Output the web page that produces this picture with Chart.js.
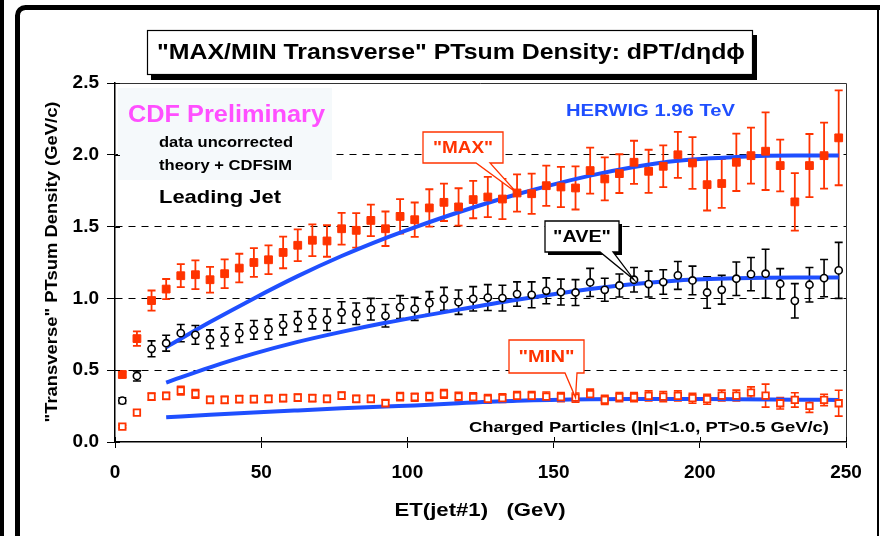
<!DOCTYPE html>
<html>
<head>
<meta charset="utf-8">
<script src="https://cdn.jsdelivr.net/npm/chart.js@4"></script>
<style>
  html, body { margin: 0; padding: 0; background: #fff; }
  canvas { display: block; }
</style>
</head>
<body>
<canvas id="chart" width="880" height="536"></canvas>
<script>
const ET = [2.5, 7.5, 12.5, 17.5, 22.5, 27.5, 32.5, 37.5, 42.5, 47.5,
  52.5, 57.5, 62.5, 67.5, 72.5, 77.5, 82.5, 87.5, 92.5, 97.5,
  102.5, 107.5, 112.5, 117.5, 122.5, 127.5, 132.5, 137.5, 142.5, 147.5,
  152.5, 157.5, 162.5, 167.5, 172.5, 177.5, 182.5, 187.5, 192.5, 197.5,
  202.5, 207.5, 212.5, 217.5, 222.5, 227.5, 232.5, 237.5, 242.5, 247.5];

const MAX_VALUES = [0.47, 0.72, 0.985, 1.065, 1.158, 1.165, 1.13, 1.172, 1.211, 1.25,
  1.269, 1.32, 1.37, 1.405, 1.40, 1.485, 1.474, 1.543, 1.485, 1.571,
  1.548, 1.63, 1.669, 1.637, 1.688, 1.706, 1.692, 1.734, 1.729, 1.785,
  1.776, 1.769, 1.89, 1.832, 1.869, 1.948, 1.885, 1.92, 2.0, 1.943,
  1.792, 1.80, 1.948, 1.994, 2.025, 1.925, 1.672, 1.925, 1.994, 2.118];
const MAX_ERRORS = [0.02, 0.05, 0.07, 0.07, 0.08, 0.1, 0.09, 0.1, 0.1, 0.1,
  0.1, 0.11, 0.11, 0.11, 0.11, 0.11, 0.12, 0.11, 0.12, 0.12,
  0.12, 0.13, 0.13, 0.13, 0.13, 0.14, 0.14, 0.13, 0.14, 0.14,
  0.14, 0.15, 0.16, 0.15, 0.135, 0.15, 0.15, 0.145, 0.16, 0.18,
  0.18, 0.17, 0.2, 0.195, 0.27, 0.18, 0.2, 0.22, 0.23, 0.33];

const AVE_VALUES = [0.288, 0.46, 0.649, 0.688, 0.758, 0.746, 0.716, 0.734, 0.758, 0.781,
  0.786, 0.816, 0.839, 0.858, 0.851, 0.902, 0.893, 0.925, 0.879, 0.939,
  0.927, 0.967, 0.997, 0.974, 0.997, 1.006, 1.002, 1.03, 1.025, 1.053,
  1.044, 1.041, 1.111, 1.06, 1.09, 1.13, 1.10, 1.114, 1.16, 1.125,
  1.041, 1.06, 1.137, 1.169, 1.172, 1.102, 0.983, 1.095, 1.141, 1.195];
const AVE_ERRORS = [0.02, 0.035, 0.055, 0.055, 0.06, 0.065, 0.065, 0.065, 0.065, 0.065,
  0.07, 0.07, 0.07, 0.07, 0.075, 0.075, 0.075, 0.075, 0.078, 0.08,
  0.08, 0.08, 0.08, 0.085, 0.085, 0.09, 0.09, 0.085, 0.09, 0.09,
  0.09, 0.09, 0.098, 0.08, 0.08, 0.085, 0.09, 0.085, 0.097, 0.1,
  0.11, 0.1, 0.117, 0.116, 0.17, 0.105, 0.12, 0.12, 0.13, 0.195];

const MIN_VALUES = [0.107, 0.204, 0.316, 0.321, 0.358, 0.335, 0.293, 0.293, 0.298, 0.298,
  0.30, 0.305, 0.309, 0.305, 0.30, 0.323, 0.30, 0.30, 0.27, 0.316,
  0.312, 0.316, 0.335, 0.316, 0.312, 0.30, 0.305, 0.321, 0.321, 0.316,
  0.312, 0.309, 0.333, 0.293, 0.312, 0.312, 0.321, 0.316, 0.321, 0.305,
  0.298, 0.323, 0.323, 0.344, 0.323, 0.27, 0.293, 0.251, 0.293, 0.27];
const MIN_ERRORS = [0.01, 0.015, 0.025, 0.025, 0.03, 0.03, 0.025, 0.025, 0.025, 0.025,
  0.025, 0.025, 0.025, 0.025, 0.025, 0.025, 0.025, 0.025, 0.025, 0.028,
  0.028, 0.028, 0.03, 0.03, 0.03, 0.03, 0.03, 0.03, 0.03, 0.032,
  0.032, 0.032, 0.035, 0.032, 0.032, 0.032, 0.035, 0.035, 0.035, 0.035,
  0.035, 0.038, 0.038, 0.04, 0.08, 0.04, 0.05, 0.045, 0.04, 0.09];

const HERWIG_ET = [17.5, 32.5, 47.5, 62.5, 77.5, 92.5, 102.5, 117.5, 137.5, 162.5, 177.5, 192.5, 212.5, 232.5, 247.5];
const HERWIG_MAX = [0.66, 0.835, 1.0, 1.155, 1.295, 1.42, 1.495, 1.60, 1.725, 1.855, 1.915, 1.958, 1.985, 1.995, 1.995];
const HERWIG_AVE = [0.414, 0.52, 0.615, 0.697, 0.767, 0.83, 0.868, 0.922, 0.99, 1.065, 1.10, 1.125, 1.14, 1.145, 1.145];
const HERWIG_MIN = [0.172, 0.19, 0.205, 0.22, 0.235, 0.248, 0.255, 0.27, 0.287, 0.298, 0.30, 0.299, 0.298, 0.295, 0.293];

const RED = '#ff3300';
const BLUE = '#1f4fff';
const FONT = '"Liberation Sans", Arial, Helvetica, sans-serif';

function points(xs, ys) {
  return xs.map((x, i) => ({ x, y: ys[i] }));
}

function drawText(ctx, text, x, y, size, color, width, align = 'left') {
  ctx.save();
  ctx.font = `bold ${size}px ${FONT}`;
  ctx.fillStyle = color;
  ctx.textBaseline = 'middle';
  ctx.textAlign = align;
  const measured = ctx.measureText(text).width;
  ctx.translate(x, y);
  ctx.scale(width ? width / measured : 1, 1);
  ctx.fillText(text, 0, 0);
  ctx.restore();
}

function drawErrorBars(chart, values, errors, color, lineWidth) {
  const { ctx, scales: { x, y } } = chart;
  ctx.save();
  ctx.strokeStyle = color;
  ctx.lineWidth = lineWidth;
  values.forEach((v, i) => {
    const px = x.getPixelForValue(ET[i]);
    const top = y.getPixelForValue(v + errors[i]);
    const bottom = y.getPixelForValue(v - errors[i]);
    ctx.beginPath();
    ctx.moveTo(px, top);
    ctx.lineTo(px, bottom);
    ctx.moveTo(px - 4, top);
    ctx.lineTo(px + 4, top);
    ctx.moveTo(px - 4, bottom);
    ctx.lineTo(px + 4, bottom);
    ctx.stroke();
  });
  ctx.restore();
}

// box with a pointer that ends at a data point
function drawCallout(chart, box, base, index, values, text, color, shadow) {
  const { ctx, scales: { x, y } } = chart;
  const tipX = x.getPixelForValue(ET[index]);
  const tipY = y.getPixelForValue(values[index]);
  ctx.save();
  if (shadow) {
    ctx.fillStyle = '#000';
    ctx.fillRect(box.x + 3, box.y + 3, box.w, box.h);
  }
  ctx.fillStyle = '#fff';
  ctx.strokeStyle = color;
  ctx.lineWidth = 1.3;
  ctx.beginPath();
  ctx.moveTo(box.x, box.y);
  ctx.lineTo(box.x + box.w, box.y);
  ctx.lineTo(box.x + box.w, box.y + box.h);
  ctx.lineTo(base[1], box.y + box.h);
  ctx.lineTo(tipX, tipY);
  ctx.lineTo(base[0], box.y + box.h);
  ctx.lineTo(box.x, box.y + box.h);
  ctx.closePath();
  ctx.fill();
  ctx.stroke();
  ctx.restore();
  drawText(ctx, text, box.x + box.w / 2, box.y + box.h / 2 + 1, 17, color, box.tw, 'center');
}

const decorations = {
  id: 'decorations',
  beforeDraw(chart) {
    const { ctx } = chart;
    ctx.save();
    ctx.fillStyle = '#fff';
    ctx.fillRect(0, 0, chart.width, chart.height);
    ctx.restore();
  },
  beforeDatasetsDraw(chart) {
    const { ctx } = chart;
    ctx.save();
    ctx.fillStyle = '#f5f9fb';
    ctx.fillRect(118, 88, 214, 92);
    ctx.restore();
    drawErrorBars(chart, MAX_VALUES, MAX_ERRORS, RED, 1.8);
    drawErrorBars(chart, AVE_VALUES, AVE_ERRORS, '#000', 1.6);
    drawErrorBars(chart, MIN_VALUES, MIN_ERRORS, RED, 1.6);
  },
  afterDatasetsDraw(chart) {
    const { ctx, chartArea: a, scales: { x, y } } = chart;
    // top and right frame of the plot
    ctx.save();
    ctx.strokeStyle = '#333';
    ctx.lineWidth = 1;
    ctx.beginPath();
    ctx.moveTo(a.left, a.top + 0.5);
    ctx.lineTo(a.right + 0.5, a.top + 0.5);
    ctx.lineTo(a.right + 0.5, a.bottom);
    ctx.stroke();
    // inner halves of the tick marks
    ctx.strokeStyle = '#000';
    x.ticks.forEach((t) => {
      const px = Math.round(x.getPixelForValue(t.value)) + 0.5;
      ctx.beginPath();
      ctx.moveTo(px, a.bottom);
      ctx.lineTo(px, a.bottom - 5);
      ctx.stroke();
    });
    y.ticks.forEach((t) => {
      const py = Math.round(y.getPixelForValue(t.value)) + 0.5;
      ctx.beginPath();
      ctx.moveTo(a.left, py);
      ctx.lineTo(a.left + 5, py);
      ctx.stroke();
    });
    ctx.restore();

    drawText(ctx, 'CDF Preliminary', 128, 115, 24, '#ff4fff', 197);
    drawText(ctx, 'data uncorrected', 159, 143, 14, '#000', 134);
    drawText(ctx, 'theory + CDFSIM', 159, 166, 14, '#000', 133);
    drawText(ctx, 'Leading Jet', 159, 198, 19, '#000', 122);
    drawText(ctx, 'HERWIG 1.96 TeV', 566, 111, 17, BLUE, 169);
    drawText(ctx, 'Charged Particles (|\u03b7|<1.0, PT>0.5 GeV/c)', 469, 428, 15, '#000', 360);

    drawCallout(chart, { x: 423, y: 132, w: 80, h: 31, tw: 60 }, [476, 490], 27, MAX_VALUES, '"MAX"', RED, false);
    drawCallout(chart, { x: 545, y: 221, w: 74, h: 31, tw: 58 }, [600, 613], 35, AVE_VALUES, '"AVE"', '#000', true);
    drawCallout(chart, { x: 509, y: 340, w: 75, h: 33, tw: 56 }, [565, 577], 31, MIN_VALUES, '"MIN"', RED, false);
  },
  afterDraw(chart) {
    const { ctx } = chart;
    // title box with shadow
    ctx.save();
    ctx.fillStyle = '#000';
    ctx.fillRect(151, 35, 606, 45);
    ctx.fillStyle = '#fff';
    ctx.fillRect(147, 30, 606, 45);
    ctx.strokeStyle = '#000';
    ctx.lineWidth = 1.2;
    ctx.strokeRect(147.5, 30.5, 605, 44);
    ctx.restore();
    drawText(ctx, '"MAX/MIN Transverse" PTsum Density: dPT/d\u03b7d\u03d5', 451, 53, 22, '#000', 588, 'center');

    // axis titles
    drawText(ctx, 'ET(jet#1)   (GeV)', 480, 511, 18, '#000', 171, 'center');
    ctx.save();
    ctx.translate(52, 262);
    ctx.rotate(-Math.PI / 2);
    drawText(ctx, '"Transverse" PTsum Density (GeV/c)', 0, 0, 17, '#000', 321, 'center');
    ctx.restore();

    // outer slide frame
    ctx.save();
    ctx.fillStyle = '#000';
    ctx.fillRect(0, 0, 4, chart.height);
    ctx.lineWidth = 5;
    ctx.strokeStyle = '#000';
    ctx.beginPath();
    ctx.moveTo(17.5, chart.height + 5);
    ctx.lineTo(17.5, 16);
    ctx.arcTo(17.5, 7.5, 26, 7.5, 8);
    ctx.lineTo(chart.width + 5, 7.5);
    ctx.stroke();
    ctx.lineWidth = 2;
    ctx.beginPath();
    ctx.moveTo(878, 7);
    ctx.lineTo(878, chart.height + 5);
    ctx.stroke();
    ctx.restore();
  }
};

const tickFont = { family: FONT, size: 19, weight: 'bold' };

new Chart(document.getElementById('chart'), {
  type: 'scatter',
  data: {
    datasets: [
      {
        label: 'MAX',
        data: points(ET, MAX_VALUES),
        pointStyle: 'rect',
        pointRadius: 5.5,
        backgroundColor: RED,
        borderColor: RED,
        borderWidth: 1,
        order: 0
      },
      {
        label: 'AVE',
        data: points(ET, AVE_VALUES),
        pointStyle: 'circle',
        pointRadius: 3.6,
        backgroundColor: '#fff',
        borderColor: '#000',
        borderWidth: 1.6,
        order: 0
      },
      {
        label: 'MIN',
        data: points(ET, MIN_VALUES),
        pointStyle: 'rect',
        pointRadius: 4.6,
        backgroundColor: '#fff',
        borderColor: RED,
        borderWidth: 1.8,
        order: 0
      },
      ...[HERWIG_MAX, HERWIG_AVE, HERWIG_MIN].map((values, i) => ({
        label: `HERWIG ${i}`,
        data: points(HERWIG_ET, values),
        showLine: true,
        pointRadius: 0,
        borderColor: BLUE,
        borderWidth: 4,
        cubicInterpolationMode: 'monotone',
        order: 1
      }))
    ]
  },
  options: {
    responsive: false,
    animation: false,
    events: [],
    layout: { padding: { top: 83, right: 34, left: 0, bottom: 0 } },
    plugins: {
      legend: { display: false },
      tooltip: { enabled: false },
      title: { display: false }
    },
    scales: {
      x: {
        type: 'linear',
        min: 0,
        max: 250,
        ticks: { stepSize: 50, color: '#000', font: tickFont, padding: 13, maxRotation: 0 },
        grid: { drawOnChartArea: false, color: '#000', tickColor: '#000', tickLength: 6, lineWidth: 1 },
        border: { color: '#000', width: 1.5 },
        afterFit: (scale) => { scale.height = 94; }
      },
      y: {
        type: 'linear',
        min: 0,
        max: 2.5,
        ticks: {
          stepSize: 0.5,
          color: '#000',
          font: tickFont,
          padding: 8,
          callback: (value) => value.toFixed(1)
        },
        grid: {
          color: (ctx) => (ctx.tick && ctx.tick.value > 0 && ctx.tick.value < 2.5 ? '#000' : 'rgba(0,0,0,0)'),
          tickColor: '#000',
          tickLength: 8,
          lineWidth: 1
        },
        border: { color: '#000', width: 1.5, dash: [7, 6] },
        afterFit: (scale) => { scale.width = 115; }
      }
    }
  },
  plugins: [decorations]
});
</script>
</body>
</html>
